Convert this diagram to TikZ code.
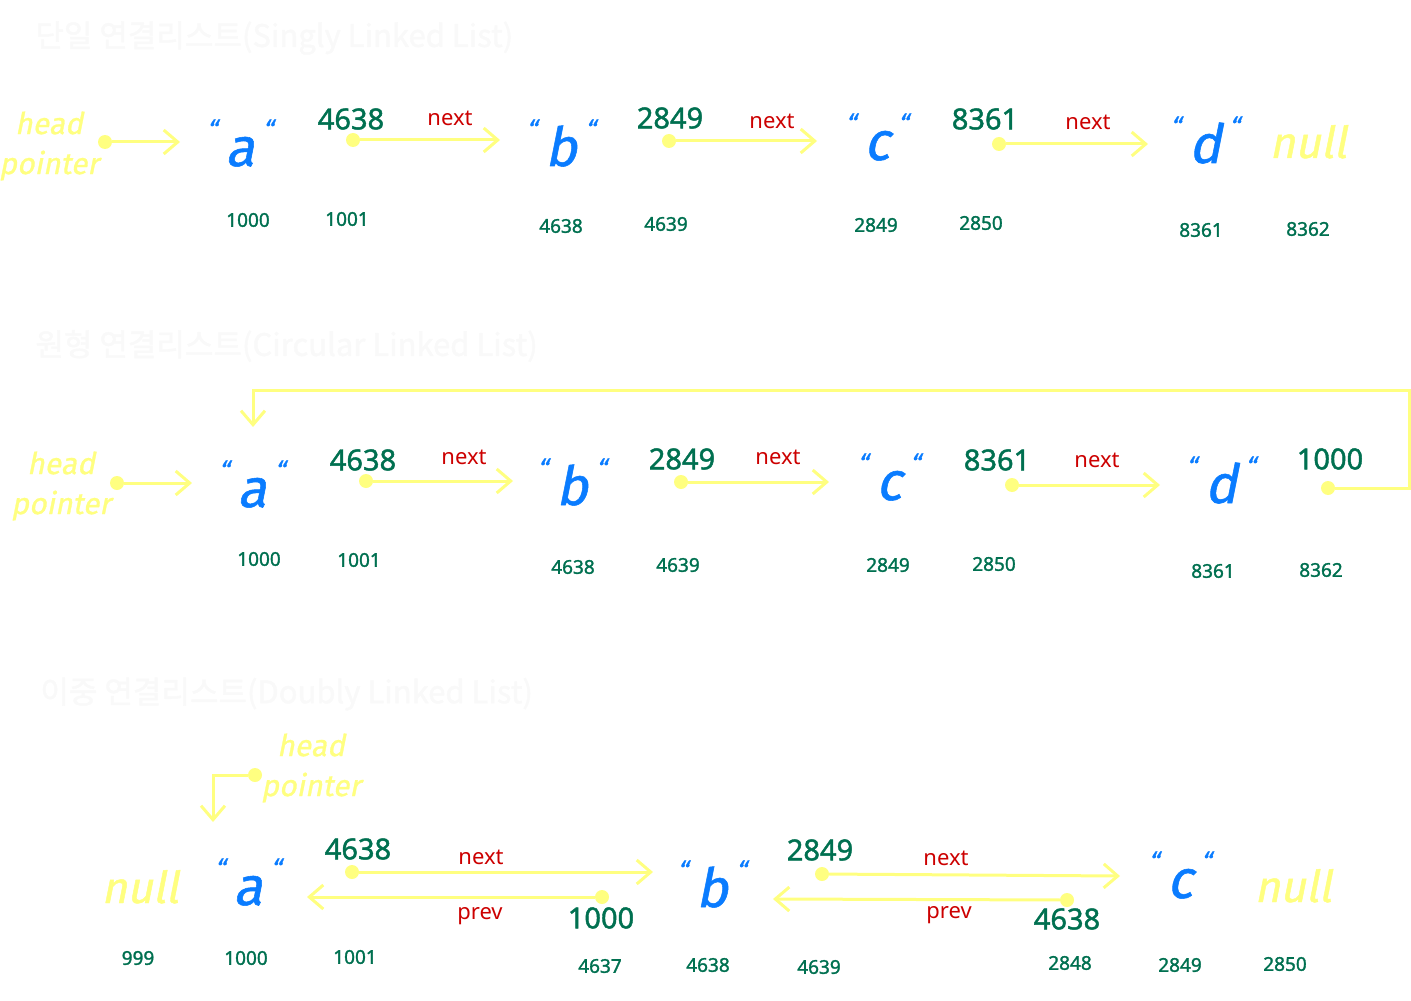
\documentclass[tikz,border=0pt]{standalone}
\usepackage{fontspec}
\usetikzlibrary{arrows.meta, positioning, calc}
\setmainfont{Noto Sans}
\newfontfamily\krfont[FakeBold=1.5]{Noto Sans CJK KR}
\newfontfamily\numfont[FakeBold=1.5]{Noto Sans}
\newfontfamily\handfont[FakeSlant=0.2, FakeBold=1]{Fira Sans}
\definecolor{hlyellow}{HTML}{FFFF80}
\definecolor{ptrgreen}{HTML}{007050}
\definecolor{elemblue}{HTML}{0A7CFF}
\definecolor{nextred}{HTML}{CC0000}
\definecolor{titlegray}{HTML}{F9F9F9}
% element with its small quote marks
\newcommand{\qel}[1]{\raisebox{0.95ex}{\fontsize{13}{13}\selectfont “}\hspace{4pt}#1\hspace{4pt}\raisebox{0.95ex}{\fontsize{13}{13}\selectfont “}}

\begin{document}
\begin{tikzpicture}[x=0.5pt, y=-0.5pt, inner sep=0pt,
  ttl/.style={anchor=west, text=titlegray, font=\krfont\fontsize{15.5}{18}\selectfont},
  elem/.style={anchor=base, text=elemblue, font=\handfont\fontsize{27}{30}\selectfont},
  hand/.style={align=center, text=hlyellow, font=\handfont\fontsize{15}{20}\selectfont},
  nul/.style={anchor=base, text=hlyellow, font=\handfont\fontsize{22}{24}\selectfont},
  val/.style={text=ptrgreen, font=\numfont\fontsize{14.5}{16}\selectfont},
  addr/.style={text=ptrgreen, font=\numfont\fontsize{9.5}{11}\selectfont},
  lbl/.style={text=nextred, font=\fontsize{11}{13}\selectfont},
  dot/.style={circle, fill=hlyellow, minimum size=7pt},
  link/.style={draw=hlyellow, line width=1.5pt, line cap=round, -{Straight Barb[length=7pt, width=12pt]}},
  wire/.style={draw=hlyellow, line width=1.5pt}]
\useasboundingbox (0,0) rectangle (1411,1000);

% ---------- singly linked list
\node[ttl] (t1) at (35,38) {단일 연결리스트(Singly Linked List)};
\node[hand] (h1) at (49,146) {head\\pointer};
\node[dot] (hd1) at (105,142) {};
\coordinate (he1) at (180,142);
\node[elem] (a1) at (240,166) {\qel{a}};
\node[val] (pa1) at (351,119) {4638};
\node[dot] (da1) at (353,140) {};
\coordinate (ea1) at (500,140);
\node[lbl] (na1) at (450,118) {next};
\node[elem] (b1) at (561,166) {\qel{b}};
\node[val] (pb1) at (670,118) {2849};
\node[dot] (db1) at (669,141) {};
\coordinate (eb1) at (817,141);
\node[lbl] (nb1) at (772,121) {next};
\node[elem] (c1) at (877,160) {\qel{c}};
\node[val] (pc1) at (985,119) {8361};
\node[dot] (dc1) at (999,144) {};
\coordinate (ec1) at (1148,144);
\node[lbl] (nc1) at (1088,122) {next};
\node[elem] (d1) at (1205,163) {\qel{d}};
\node[nul] (z1) at (1308,158) {null};
\node[addr] at (248,220) {1000};
\node[addr] at (347,219) {1001};
\node[addr] at (561,226) {4638};
\node[addr] at (666,224) {4639};
\node[addr] at (876,225) {2849};
\node[addr] at (981,223) {2850};
\node[addr] at (1201,230) {8361};
\node[addr] at (1308,229) {8362};
\draw[link] (hd1) -- (he1);
\draw[link] (da1) -- (ea1);
\draw[link] (db1) -- (eb1);
\draw[link] (dc1) -- (ec1);

% ---------- circular linked list
\node[ttl] (t2) at (35,346) {원형 연결리스트(Circular Linked List)};
\node[hand] (h2) at (61,486) {head\\pointer};
\node[dot] (hd2) at (117,483) {};
\coordinate (he2) at (192,483);
\node[elem] (a2) at (252,507) {\qel{a}};
\node[val] (pa2) at (363,460) {4638};
\node[dot] (da2) at (366,481) {};
\coordinate (ea2) at (513,481);
\node[lbl] (na2) at (464,457) {next};
\node[elem] (b2) at (572,505) {\qel{b}};
\node[val] (pb2) at (682,459) {2849};
\node[dot] (db2) at (681,482) {};
\coordinate (eb2) at (829,482);
\node[lbl] (nb2) at (778,457) {next};
\node[elem] (c2) at (889,500) {\qel{c}};
\node[val] (pc2) at (997,460) {8361};
\node[dot] (dc2) at (1012,485) {};
\coordinate (ec2) at (1160,485);
\node[lbl] (nc2) at (1097,460) {next};
\node[elem] (d2) at (1221,503) {\qel{d}};
\node[val] (pd2) at (1330,459) {1000};
\node[dot] (dd2) at (1328,488) {};
\coordinate (r2) at (1409,390);
\coordinate (ed2) at (253,427);
\node[addr] at (259,559) {1000};
\node[addr] at (359,560) {1001};
\node[addr] at (573,567) {4638};
\node[addr] at (678,565) {4639};
\node[addr] at (888,565) {2849};
\node[addr] at (994,564) {2850};
\node[addr] at (1213,571) {8361};
\node[addr] at (1321,570) {8362};
\draw[link] (hd2) -- (he2);
\draw[link] (da2) -- (ea2);
\draw[link] (db2) -- (eb2);
\draw[link] (dc2) -- (ec2);
\draw[link] (dd2) -| (r2) -| (ed2);

% ---------- doubly linked list
\node[ttl] (t3) at (40,694) {이중 연결리스트(Doubly Linked List)};
\node[hand] (h3) at (311,768) {head\\pointer};
\node[dot] (hd3) at (255,775) {};
\coordinate (he3) at (213,822);
\node[nul] (z3l) at (140,903) {null};
\node[elem] (a3) at (248,905) {\qel{a}};
\node[val] (pa3) at (358,849) {4638};
\node[dot] (da3) at (352,872) {};
\coordinate (ea3) at (653,872);
\node[lbl] (na3) at (481,857) {next};
\node[dot] (qa3) at (602,897) {};
\coordinate (fa3) at (307,897);
\node[lbl] (ra3) at (480,916) {prev};
\node[val] (va3) at (601,918) {1000};
\node[elem] (b3) at (712,907) {\qel{b}};
\node[val] (pb3) at (820,850) {2849};
\node[dot] (db3) at (822,874) {};
\coordinate (eb3) at (1120,876);
\node[lbl] (nb3) at (946,858) {next};
\node[dot] (qb3) at (1067,900) {};
\coordinate (fb3) at (773,899);
\node[lbl] (rb3) at (949,915) {prev};
\node[val] (vb3) at (1067,919) {4638};
\node[elem] (c3) at (1180,898) {\qel{c}};
\node[nul] (z3r) at (1293,902) {null};
\node[addr] at (138,958) {999};
\node[addr] at (246,958) {1000};
\node[addr] at (355,957) {1001};
\node[addr] at (600,966) {4637};
\node[addr] at (708,965) {4638};
\node[addr] at (819,967) {4639};
\node[addr] at (1070,963) {2848};
\node[addr] at (1180,965) {2849};
\node[addr] at (1285,964) {2850};
\draw[link] (hd3) -| (he3);
\draw[link] (da3) -- (ea3);
\draw[link] (qa3) -- (fa3);
\draw[link] (db3) -- (eb3);
\draw[link] (qb3) -- (fb3);
\end{tikzpicture}
\end{document}
